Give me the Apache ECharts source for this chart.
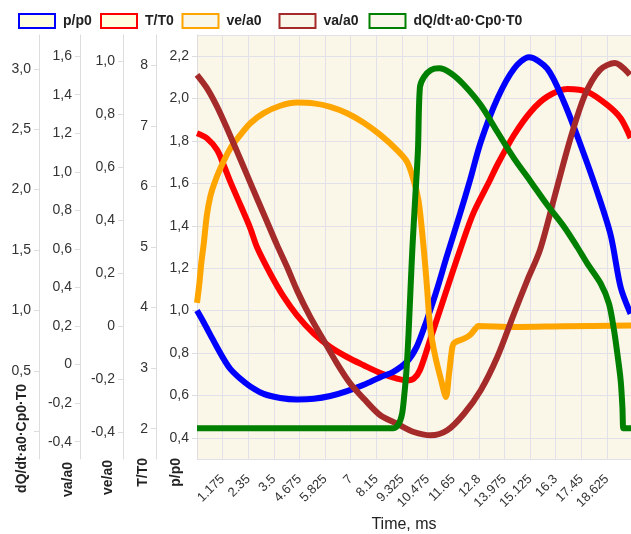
<!DOCTYPE html>
<html>
<head>
<meta charset="utf-8">
<script src="https://cdn.jsdelivr.net/npm/echarts@6/dist/echarts.min.js"></script>
<style>
  html, body { margin: 0; padding: 0; background: #ffffff; }
  #chart { width: 631px; height: 534px; }
</style>
</head>
<body>
<div id="chart"></div>
<script>
// Time axis tick labels (ms), one per tick after the origin
const timeTickLabels = ['1.175', '2.35', '3.5', '4.675', '5.825', '7', '8.15', '9.325',
  '10.475', '11.65', '12.8', '13.975', '15.125', '16.3', '17.45', '18.625'];
const TIME_TICK_STEP = 1.163;
const TIME_MAX = 19.7;

// [time ms, value] pairs per series
const pressure = [
  [0, 1.000], [0.30, 0.945], [0.60, 0.887], [0.91, 0.827], [1.21, 0.772], [1.51, 0.725],
  [1.97, 0.678], [2.42, 0.642], [3.03, 0.607], [3.78, 0.588], [4.54, 0.581], [5.30, 0.584],
  [6.05, 0.597], [6.81, 0.620], [7.57, 0.650], [8.32, 0.686], [8.91, 0.711], [9.52, 0.758],
  [9.97, 0.829], [10.43, 0.955], [10.88, 1.096], [11.33, 1.253], [11.94, 1.457], [12.39, 1.614],
  [12.88, 1.795], [13.63, 1.999], [14.39, 2.141], [15.07, 2.195], [15.90, 2.141], [16.66, 1.983],
  [17.42, 1.779], [18.17, 1.559], [18.78, 1.355], [19.23, 1.110], [19.68, 0.985]
];
const temperature = [
  [0, 6.877], [0.45, 6.795], [0.91, 6.602], [1.21, 6.354], [1.51, 6.078], [1.97, 5.694],
  [2.42, 5.309], [2.72, 5.000], [3.33, 4.559], [3.94, 4.175], [4.54, 3.872], [5.30, 3.569],
  [6.05, 3.349], [6.81, 3.184], [7.57, 3.047], [8.32, 2.920], [9.08, 2.826], [9.53, 2.799],
  [9.84, 2.826], [10.12, 2.969], [10.58, 3.465], [11.03, 3.960], [11.48, 4.455], [11.94, 4.951],
  [12.54, 5.556], [13.30, 6.106], [13.63, 6.354], [14.39, 6.849], [15.15, 7.234], [15.90, 7.482],
  [16.81, 7.609], [17.72, 7.564], [18.62, 7.345], [19.23, 7.125], [19.68, 6.800]
];
const exhaustVelocity = [
  [0, 0.089], [0.10, 0.157], [0.20, 0.243], [0.30, 0.308], [0.45, 0.421], [0.60, 0.489],
  [0.76, 0.534], [1.06, 0.597], [1.51, 0.672], [1.97, 0.723], [2.42, 0.767], [3.03, 0.805],
  [3.78, 0.833], [4.54, 0.845], [5.30, 0.842], [6.05, 0.829], [6.81, 0.805], [7.57, 0.769],
  [8.32, 0.723], [9.08, 0.666], [9.53, 0.622], [9.83, 0.553], [10.05, 0.477], [10.21, 0.364],
  [10.35, 0.240], [10.45, 0.138], [10.55, 0.025], [10.67, -0.051], [10.85, -0.126], [11.08, -0.202],
  [11.30, -0.266], [11.44, -0.178], [11.59, -0.077], [11.67, -0.062], [11.83, -0.055], [12.12, -0.046],
  [12.42, -0.030], [12.63, -0.009], [12.77, 0.002], [14.39, -0.002], [16.66, 0.001], [19.70, 0.004]
];
const airVelocity = [
  [0, 1.503], [0.45, 1.434], [0.91, 1.338], [1.36, 1.226], [1.82, 1.105], [2.27, 0.984],
  [2.72, 0.863], [3.18, 0.741], [3.63, 0.621], [4.09, 0.506], [4.54, 0.385], [5.14, 0.247],
  [5.75, 0.126], [6.36, 0.005], [6.96, -0.099], [7.57, -0.177], [8.32, -0.263], [9.08, -0.307],
  [9.84, -0.350], [10.61, -0.367], [11.36, -0.341], [12.12, -0.255], [12.88, -0.133], [13.63, 0.039],
  [14.39, 0.264], [14.99, 0.437], [15.57, 0.595], [16.25, 0.880], [16.93, 1.165], [17.61, 1.399],
  [18.29, 1.529], [18.97, 1.565], [19.65, 1.503]
];
const heatRelease = [
  [0, 0.025], [8.92, 0.025], [9.16, 0.062], [9.31, 0.145], [9.40, 0.283], [9.51, 0.507],
  [9.60, 0.797], [9.69, 1.169], [9.78, 1.525], [9.90, 1.914], [10.03, 2.328], [10.12, 2.849],
  [10.30, 2.932], [10.61, 2.990], [10.99, 3.004], [11.52, 2.963], [12.12, 2.866], [12.88, 2.700],
  [13.63, 2.479], [14.39, 2.259], [15.15, 2.066], [15.90, 1.873], [16.66, 1.693], [17.26, 1.525],
  [17.72, 1.387], [18.33, 1.221], [18.70, 1.056], [18.93, 0.835], [19.08, 0.642], [19.23, 0.422],
  [19.31, 0.200], [19.35, 0.025], [19.40, 0.025], [19.70, 0.025]
];

// legendLeft: left edge of each legend swatch; axis: index into yAxes
const seriesDefs = [
  { name: 'p/p0', color: '#0000ff', fill: '#ffffe0', data: pressure, legendLeft: 18, axis: 0 },
  { name: 'T/T0', color: '#ff0000', fill: '#ffffe0', data: temperature, legendLeft: 100, axis: 1 },
  { name: 've/a0', color: '#ffa500', fill: '#f9f6ea', data: exhaustVelocity, legendLeft: 181.5, axis: 2 },
  { name: 'va/a0', color: '#a52a2a', fill: '#f9f6ea', data: airVelocity, legendLeft: 278.5, axis: 3 },
  { name: 'dQ/dt·a0·Cp0·T0', color: '#008000', fill: '#f9f6ea', data: heatRelease, legendLeft: 368.5, axis: 4 }
];
// painting order of the curves (later ones on top)
const drawOrder = ['T/T0', 'p/p0', 've/a0', 'va/a0', 'dQ/dt·a0·Cp0·T0'];

const FONT = 'Liberation Sans, Arial, sans-serif';
const comma = (v, digits) => v.toFixed(digits).replace('.', ',');

function yAxis(name, offset, min, max, step, fmt, nameGap, namePad) {
  return {
    type: 'value', position: 'left', offset: offset,
    name: name, nameLocation: 'start', nameRotate: 90, nameGap: nameGap, nameMoveOverlap: false,
    nameTextStyle: {
      fontFamily: FONT, fontSize: 14, fontWeight: 'bold', color: '#222',
      align: 'right', verticalAlign: 'bottom', padding: [0, 0, namePad, 0]
    },
    min: min, max: max, minInterval: step, maxInterval: step, splitNumber: 10,
    axisLine: { show: true, lineStyle: { color: '#dddddd' } },
    axisTick: { show: true, length: 5, lineStyle: { color: '#dddddd' } },
    axisLabel: { fontFamily: FONT, fontSize: 14, color: '#333', showMinLabel: false, showMaxLabel: false, formatter: fmt },
    splitLine: { show: false }
  };
}

const zeroOrComma = v => (Math.abs(v) < 1e-9 ? '0' : comma(v, 1));
const yAxes = [
  yAxis('p/p0', 0, 0.3, 2.3, 0.2, v => comma(v, 1), -1, 14),
  yAxis('T/T0', 41, 1.5, 8.5, 1, v => String(v), -1, 6),
  yAxis('ve/a0', 74, -0.5, 1.1, 0.2, zeroOrComma, 1, 8),
  yAxis('va/a0', 117, -0.49, 1.71, 0.2, zeroOrComma, 3, 5),
  // zero tick of this axis sits under its name, so it carries no label
  yAxis('dQ/dt·a0·Cp0·T0', 158, -0.23, 3.28, 0.5, v => (Math.abs(v) < 1e-9 ? '' : comma(v, 1)), -75, 10)
];
yAxes[0].splitLine = { show: true, lineStyle: { color: '#e2e0e8' } };

const chart = echarts.init(document.getElementById('chart'), null, { renderer: 'canvas' });
chart.setOption({
  animation: false,
  backgroundColor: '#ffffff',
  textStyle: { fontFamily: FONT },
  legend: seriesDefs.map(s => ({
    left: s.legendLeft - 5, top: 8, itemWidth: 36, itemHeight: 14, icon: 'rect',
    textStyle: { fontFamily: FONT, fontSize: 14, fontWeight: 'bold', color: '#222', padding: [0, 0, 0, 3] },
    data: [{ name: s.name, itemStyle: { color: s.fill, borderColor: s.color, borderWidth: 2 } }]
  })),
  grid: { left: 197, right: 0, top: 35, bottom: 75, show: true, backgroundColor: '#faf6e8', borderWidth: 0, outerBoundsMode: 'none' },
  xAxis: {
    type: 'value', min: 0, max: TIME_MAX, interval: TIME_TICK_STEP,
    name: 'Time, ms', nameLocation: 'middle', nameGap: 58,
    nameTextStyle: { fontFamily: FONT, fontSize: 16, color: '#222', padding: [0, 20, 0, 0] },
    axisLine: { show: true, lineStyle: { color: '#dddddd' } },
    axisTick: { show: true, length: 5, lineStyle: { color: '#dddddd' } },
    axisLabel: {
      rotate: 45, margin: 18, fontFamily: FONT, fontSize: 13, color: '#333',
      showMinLabel: false, showMaxLabel: false,
      formatter: v => timeTickLabels[Math.round(v / TIME_TICK_STEP) - 1] || ''
    },
    splitLine: { show: true, lineStyle: { color: '#e2e0e8' } }
  },
  yAxis: yAxes,
  series: drawOrder.map(n => seriesDefs.find(s => s.name === n)).map(s => ({
    name: s.name, type: 'line', yAxisIndex: s.axis, data: s.data,
    showSymbol: false, smooth: 0.3,
    lineStyle: { width: 6, color: s.color }, itemStyle: { color: s.color }
  }))
});
</script>
</body>
</html>
